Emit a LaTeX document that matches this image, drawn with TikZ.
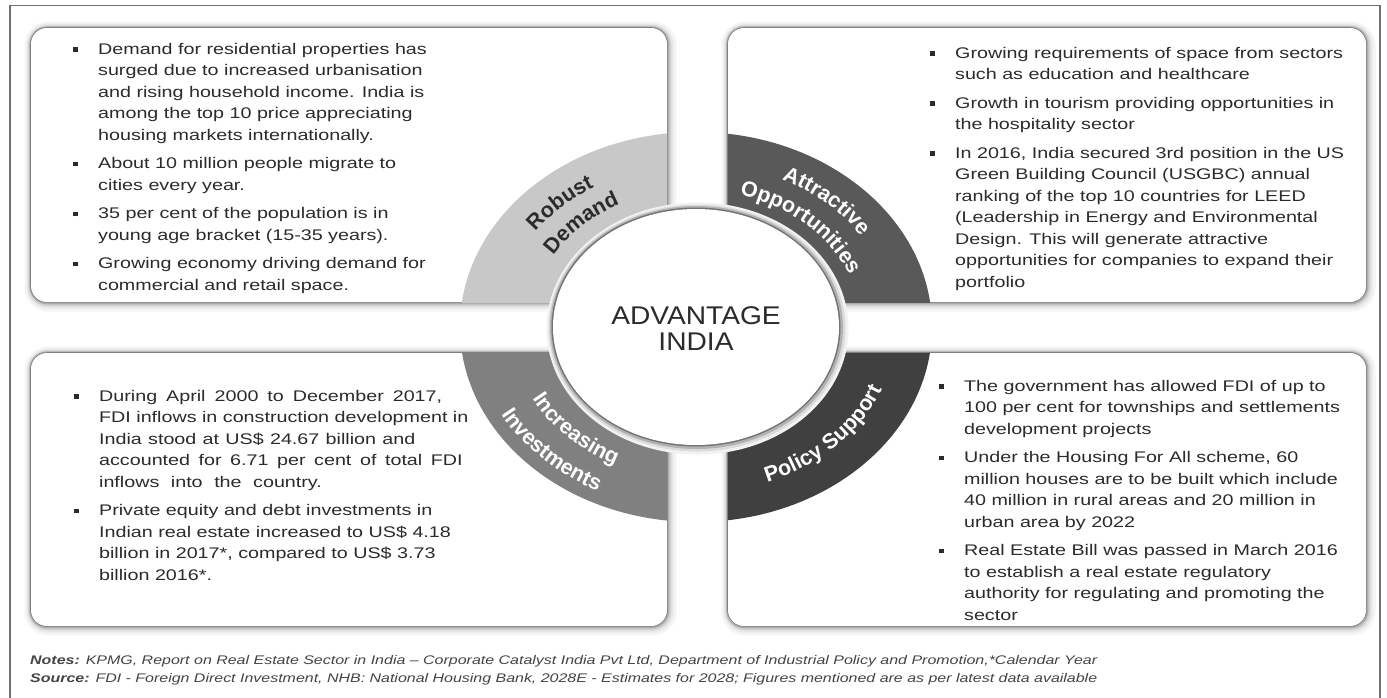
\documentclass[tikz,border=0pt]{standalone}
\usepackage{fontspec}
\setmainfont{Liberation Sans}
\usepackage{graphicx}
\usetikzlibrary{decorations.text}

\definecolor{txt}{HTML}{2B2B2B}
\definecolor{notegray}{HTML}{444444}
\definecolor{qlight}{HTML}{C8C8C8}
\definecolor{qmid}{HTML}{808080}
\definecolor{qdark}{HTML}{595959}
\definecolor{qdarkest}{HTML}{404040}
\definecolor{framegray}{HTML}{707070}

% square bullet and hanging bullet paragraphs
\newcommand\sqbullet{\raisebox{2.2pt}{\rule{3.6pt}{4.6pt}}}
\newcommand\bitem[1]{\noindent\hangindent=19.5pt\hangafter=1\makebox[19.5pt][l]{\sqbullet}#1\par}
\newcommand\itemblock[1]{\scalebox{1.28}[1]{\parbox[t]{340pt}{\setlength\parskip{7pt}#1}}}

% fonts for the ring captions
\newcommand\lbldark{\color{txt}\fontsize{21.5}{21.5}\selectfont\bfseries}
\newcommand\lbllight{\color{white}\fontsize{21.5}{21.5}\selectfont\bfseries}

% white panel with a soft grey edge
\newcommand\panel[4]{%
  \draw[line width=16pt, black!4, rounded corners=16pt] (#1+1.5,-#2-1.5) rectangle (#3+1.5,-#4-1.5);
  \draw[line width=11pt, black!9, rounded corners=16pt] (#1+1.2,-#2-1.2) rectangle (#3+1.2,-#4-1.2);
  \draw[line width=7pt, black!18, rounded corners=16pt] (#1+0.8,-#2-0.8) rectangle (#3+0.8,-#4-0.8);
  \draw[line width=4pt, black!32, rounded corners=16pt] (#1+0.4,-#2-0.4) rectangle (#3+0.4,-#4-0.4);
  \draw[line width=1.6pt, black!50, rounded corners=16pt] (#1,-#2) rectangle (#3,-#4);
  \fill[white, rounded corners=16pt] (#1,-#2) rectangle (#3,-#4);}

\tikzset{
  body/.style={anchor=base west, inner sep=0pt, text=txt, font=\fontsize{15.4}{21.5}\selectfont},
  notes/.style={anchor=base west, inner sep=0pt, text=notegray, font=\fontsize{12.5}{14}\selectfont\itshape},
  centre/.style={anchor=base, inner sep=0pt, text=txt, font=\fontsize{25.6}{26}\selectfont},
  caption/.style={decorate, decoration={text along path, text align=center, text={#1}}}
}

\begin{document}
\begin{tikzpicture}[x=1pt, y=1pt]
\useasboundingbox (0,0) rectangle (1387,-697);
\fill[white] (0,0) rectangle (1387,-697);

% four panels
\panel{31}{28}{667}{302}
\panel{728}{28}{1366}{302}
\panel{31}{353}{667}{626}
\panel{728}{353}{1366}{626}

% ring quadrants, each kept inside its panel
\begin{scope}
  \clip (31,-28) rectangle (667,-302);
  \fill[qlight] (696,-327) ellipse [x radius=236, y radius=195];
\end{scope}
\begin{scope}
  \clip (728,-28) rectangle (1366,-302);
  \fill[qdark] (696,-327) ellipse [x radius=236, y radius=195];
\end{scope}
\begin{scope}
  \clip (31,-353) rectangle (667,-626);
  \fill[qmid] (696,-327) ellipse [x radius=236, y radius=195];
\end{scope}
\begin{scope}
  \clip (728,-353) rectangle (1366,-626);
  \fill[qdarkest] (696,-327) ellipse [x radius=236, y radius=195];
\end{scope}

% central disc
\fill[black!5] (697.5,-328.5) ellipse [x radius=151, y radius=126];
\fill[black!14] (697,-328) ellipse [x radius=148.5, y radius=123.5];
\fill[black!30] (696.5,-327.5) ellipse [x radius=146.5, y radius=121.5];
\fill[black!55] (696,-327) ellipse [x radius=144.5, y radius=119.5];
\fill[white] (696,-327) ellipse [x radius=143, y radius=118];

% ring captions
\begin{scope}[shift={(696,-327)}, xscale=1.21]
  \path[caption={|\lbldark|Robust}] (178:163) arc[start angle=178, end angle=92, radius=163];
  \path[caption={|\lbldark|Demand}] (178:138) arc[start angle=178, end angle=92, radius=138];
  \path[caption={|\lbllight|Attractive}] (88:164) arc[start angle=88, end angle=6, radius=164];
  \path[caption={|\lbllight|Opportunities}] (90:137) arc[start angle=90, end angle=4, radius=137];
  \path[caption={|\lbllight|Increasing}] (181:153) arc[start angle=181, end angle=267, radius=153];
  \path[caption={|\lbllight|Investments}] (181:183) arc[start angle=181, end angle=267, radius=183];
  \path[caption={|\lbllight|Policy Support}] (273:166) arc[start angle=273, end angle=359, radius=166];
\end{scope}

\node[centre] (adv) at (696,-324) {\scalebox{1.1}[1]{ADVANTAGE}};
\node[centre] (india) at (696,-350) {\scalebox{1.1}[1]{INDIA}};

% panel texts
\node[body] (demandtext) at (73,-54) {\itemblock{%
\bitem{Demand for residential properties has\\surged due to increased urbanisation\\and rising household income. India is\\among the top 10 price appreciating\\housing markets internationally.}
\bitem{About 10 million people migrate to\\cities every year.}
\bitem{35 per cent of the population is in\\young age bracket (15-35 years).}
\bitem{Growing economy driving demand for\\commercial and retail space.}}};

\node[body] (opptext) at (930,-58) {\itemblock{%
\bitem{Growing requirements of space from sectors\\such as education and healthcare}
\bitem{Growth in tourism providing opportunities in\\the hospitality sector}
\bitem{In 2016, India secured 3rd position in the US\\Green Building Council (USGBC) annual\\ranking of the top 10 countries for LEED\\(Leadership in Energy and Environmental\\Design. This will generate attractive\\opportunities for companies to expand their\\portfolio}}};

\node[body] (investtext) at (74,-401) {\itemblock{%
\bitem{\makebox[268pt][s]{During April 2000 to December 2017,}\\FDI inflows in construction development in\\\makebox[247pt][s]{India stood at US\$ 24.67 billion and}\\\makebox[284pt][s]{accounted for 6.71 per cent of total FDI}\\\makebox[174pt][s]{inflows into the country.}}
\bitem{Private equity and debt investments in\\Indian real estate increased to US\$ 4.18\\billion in 2017*, compared to US\$ 3.73\\billion 2016*.}}};

\node[body] (policytext) at (939,-391) {\itemblock{%
\bitem{The government has allowed FDI of up to\\100 per cent for townships and settlements\\development projects}
\bitem{Under the Housing For All scheme, 60\\million houses are to be built which include\\40 million in rural areas and 20 million in\\urban area by 2022}
\bitem{Real Estate Bill was passed in March 2016\\to establish a real estate regulatory\\authority for regulating and promoting the\\sector}}};

% footnotes
\node[notes] (notes) at (30,-664) {\resizebox{1067pt}{\height}{\textbf{Notes:} KPMG, Report on Real Estate Sector in India – Corporate Catalyst India Pvt Ltd, Department of Industrial Policy and Promotion,*Calendar Year}};
\node[notes] (source) at (30,-682.5) {\resizebox{1067pt}{\height}{\textbf{Source:} FDI - Foreign Direct Investment, NHB: National Housing Bank, 2028E - Estimates for 2028; Figures mentioned are as per latest data available}};

% outer frame
\draw[framegray, line width=1.3pt] (10,-700) -- (10,-5.5) -- (1380,-5.5) -- (1380,-700);
\end{tikzpicture}
\end{document}
